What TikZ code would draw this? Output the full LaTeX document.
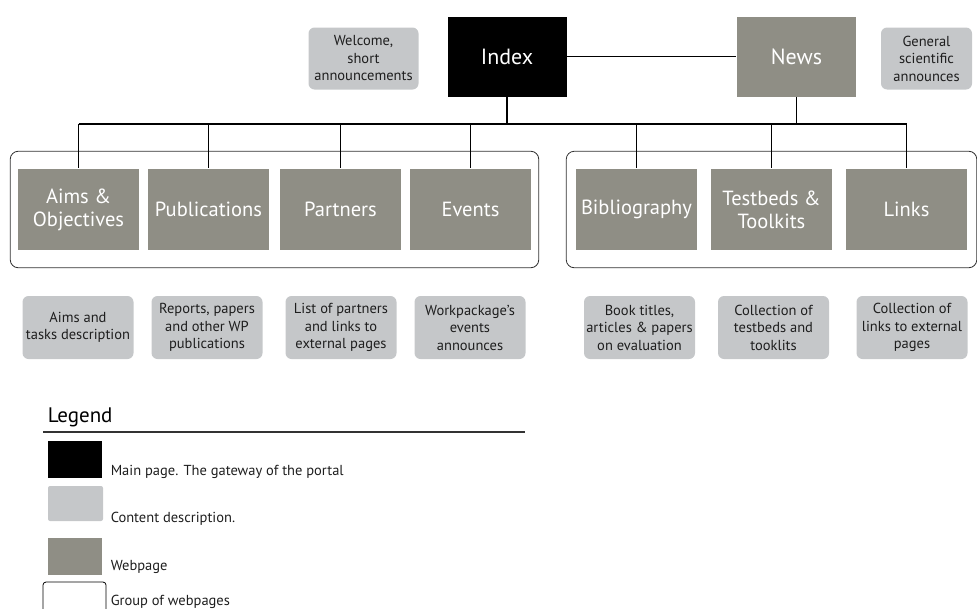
\documentclass[tikz,border=0pt]{standalone}
\usepackage{fontspec}
\setmainfont{PT Sans}
\usetikzlibrary{fit}
\definecolor{pagegray}{HTML}{8F8E85}
\definecolor{descgray}{HTML}{C5C7C9}
\definecolor{inkgray}{HTML}{1E1E1E}

\begin{document}
\begin{tikzpicture}[x=1pt, y=-1pt, line width=1.5pt]
    \tikzstyle{node_main} = [fill=black, text=white, align=center, minimum width=119, minimum height=80, font=\fontsize{22}{24}\selectfont]
    \tikzstyle{node_webpage} = [fill=pagegray, text=white, align=center, inner sep=0, minimum width=121, minimum height=81, font=\fontsize{20.5}{23}\selectfont]
    \tikzstyle{node_content} = [fill=descgray, text=inkgray, align=center, rounded corners=6, inner sep=0, minimum width=111, minimum height=63, font=\fontsize{14.5}{17.5}\selectfont]
    \tikzstyle{group_style} = [draw=black!80, line width=0.8pt, rounded corners=8]
    \tikzstyle{edge_style} = [draw=black, line width=1.5pt]
    \tikzstyle{legend_text} = [anchor=base west, text=inkgray, inner sep=0, font=\fontsize{14.5}{16}\selectfont]
    \useasboundingbox (0,0) rectangle (977,608);

    % top level
    \node[node_main] (index) at (507,56.5) {Index};
    \node[node_webpage, minimum width=119, minimum height=80, font=\fontsize{22}{24}\selectfont] (news) at (796.5,56.5) {News};
    \node[node_content, minimum width=110, minimum height=62] (welcome) at (363.5,58.5) {Welcome,\\short\\announcements};
    \node[node_content, minimum width=91, minimum height=62] (general) at (926.5,58.5) {General\\scientific\\announces};

    % webpages
    \node[node_webpage] (aims) at (78.5,209.5) {Aims \&\\Objectives};
    \node[node_webpage] (pubs) at (208.5,209.5) {Publications};
    \node[node_webpage] (partners) at (340.5,209.5) {Partners};
    \node[node_webpage] (events) at (470.5,209.5) {Events};
    \node[node_webpage] (biblio) at (636.5,209.5) {Bibliography};
    \node[node_webpage] (testbeds) at (771.5,209.5) {Testbeds \&\\Toolkits};
    \node[node_webpage] (links) at (906.5,209.5) {Links};

    \node[group_style, fit=(aims)(events), inner xsep=7, inner ysep=17] (grp_left) {};
    \node[group_style, fit=(biblio)(links), inner xsep=9, inner ysep=17] (grp_right) {};

    % descriptions
    \node[node_content] (d_aims) at (78,327.5) {Aims and\\tasks description};
    \node[node_content] (d_pubs) at (207,327.5) {Reports, papers\\and other WP\\publications};
    \node[node_content] (d_partners) at (341,327.5) {List of partners\\and links to\\external pages};
    \node[node_content] (d_events) at (470,327.5) {Workpackage's\\events\\announces};
    \node[node_content] (d_biblio) at (639.5,327.5) {Book titles,\\articles \& papers\\on evaluation};
    \node[node_content] (d_testbeds) at (773.5,327.5) {Collection of\\testbeds and\\tooklits};
    \node[node_content] (d_links) at (912,327.5) {Collection of\\links to external\\pages};

    % connectors
    \coordinate (bus) at (0,124);
    \draw[edge_style] (index) -- (news);
    \draw[edge_style] (index.south) -- (index.south |- bus);
    \draw[edge_style] (news.south) -- (news.south |- bus);
    \draw[edge_style] (aims.north |- bus) -- (links.north |- bus);
    \foreach \pg in {aims,pubs,partners,events,biblio,testbeds,links}
        \draw[edge_style] (\pg.north |- bus) -- (\pg.north);

    % legend
    \node[anchor=base west, inner sep=0, text=black, font=\fontsize{21}{24}\selectfont] (legend) at (47,422) {Legend};
    \coordinate (rule_l) at (43,432);
    \coordinate (rule_r) at (525,432);
    \draw[draw=black!80, line width=2pt] (rule_l) -- (rule_r);
    \node[fill=black, minimum width=54, minimum height=37, inner sep=0] (key_main) at (75,459.5) {};
    \node[fill=descgray, rounded corners=2, minimum width=55, minimum height=35, inner sep=0] (key_content) at (75.5,503.5) {};
    \node[fill=pagegray, minimum width=54, minimum height=37, inner sep=0] (key_page) at (75,556.5) {};
    \node[draw=black, line width=0.8pt, rounded corners=3, minimum width=63, minimum height=40, inner sep=0] (key_group) at (74.5,602) {};
    \node[legend_text] (t_main) at (110,475) {Main page. The gateway of the portal};
    \node[legend_text] (t_content) at (110,522) {Content description.};
    \node[legend_text] (t_page) at (110,570) {Webpage};
    \node[legend_text] (t_group) at (110,605) {Group of webpages};
\end{tikzpicture}
\end{document}
